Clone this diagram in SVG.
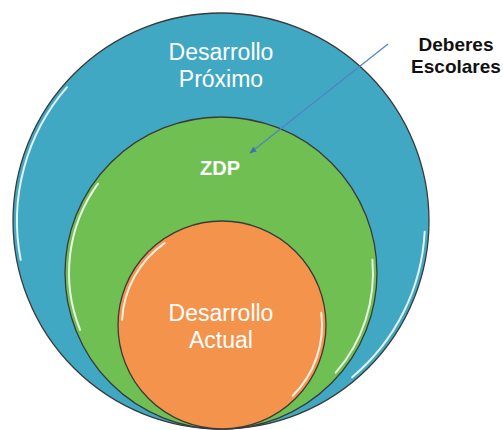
<svg xmlns="http://www.w3.org/2000/svg" width="503" height="430" viewBox="0 0 503 430">
  <defs>
    <style>
      .ring { stroke: #3a3a3a; stroke-width: 1.3; }
      .hl { fill: none; stroke: #ffffff; stroke-width: 2; stroke-linecap: round; opacity: 0.85; }
      .lbl { font-family: "Liberation Sans", Arial, sans-serif; fill: #ffffff; text-anchor: middle; }
      .ext { font-family: "Liberation Sans", Arial, sans-serif; fill: #111111; font-weight: bold; font-size: 19px; text-anchor: middle; }
      .conn { stroke: #4f82c4; stroke-width: 1.2; fill: none; }
    </style>
    <marker id="ah" viewBox="0 0 10 10" refX="9" refY="5" markerWidth="6" markerHeight="6" orient="auto">
      <path d="M0,1 L10,5 L0,9 z" fill="#3f6fb6"/>
    </marker>
  </defs>
  <rect width="503" height="430" fill="#ffffff"/>

  <g id="desarrollo-proximo">
    <circle cx="221" cy="221" r="208" fill="#41a8c3" class="ring"/>
    <path class="hl" d="M20.7,259.9 A204,204 0 0 1 67,87.2"/>
    <path class="hl" d="M424.7,231.7 A204,204 0 0 1 352.1,377.3"/>
    <text class="lbl" font-size="23" x="221" y="60">Desarrollo</text>
    <text class="lbl" font-size="23" x="221" y="87">Próximo</text>
  </g>

  <g id="zdp">
    <circle cx="221" cy="273" r="156" fill="#6fbf52" class="ring"/>
    <path class="hl" d="M80.1,329.9 A152,152 0 0 1 98,183.7"/>
    <path class="hl" d="M372.4,259.7 A152,152 0 0 1 335.7,372.7"/>
    <text class="lbl" font-size="20" font-weight="bold" x="220" y="175">ZDP</text>
  </g>

  <g id="desarrollo-actual">
    <circle cx="222" cy="325" r="104" fill="#f4934c" class="ring"/>
    <path class="hl" d="M122.1,319.8 A100,100 0 0 1 164.6,243.1"/>
    <path class="hl" d="M321.3,312.8 A100,100 0 0 1 292.7,395.7"/>
    <text class="lbl" font-size="23" x="221" y="321">Desarrollo</text>
    <text class="lbl" font-size="23" x="221" y="348">Actual</text>
  </g>

  <g id="deberes-escolares">
    <text class="ext" x="456" y="51">Deberes</text>
    <text class="ext" x="456" y="73">Escolares</text>
  </g>

  <g id="connectors">
    <line class="conn" x1="388" y1="44" x2="250" y2="153" marker-end="url(#ah)"/>
  </g>
</svg>
